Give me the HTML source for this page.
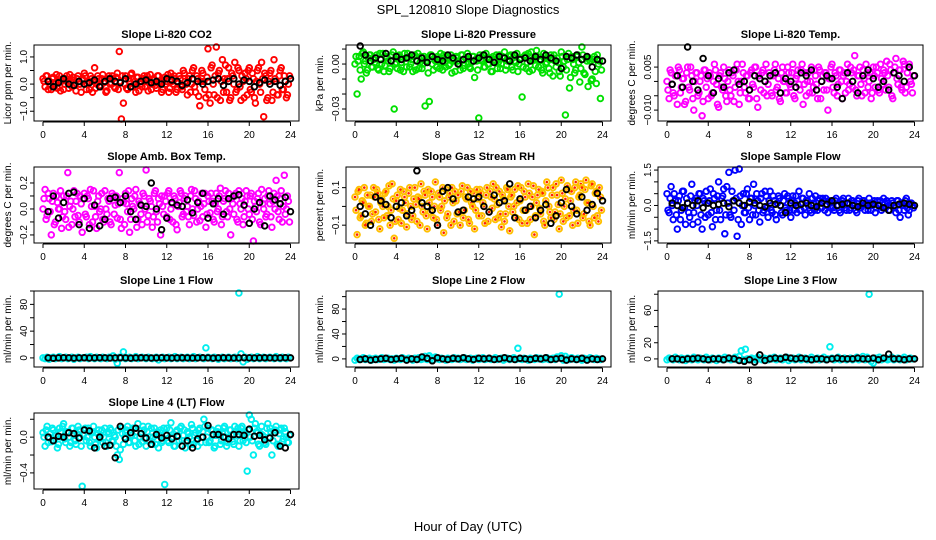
<!DOCTYPE html>
<html><head><meta charset="utf-8"><style>
body{margin:0;background:#fff}
svg{display:block}
text{font-family:"Liberation Sans",sans-serif}
</style></head><body>
<svg id="c" width="936" height="540" viewBox="0 0 936 540">
<text x="468" y="14" text-anchor="middle" font-size="13">SPL_120810  Slope Diagnostics</text>
<text x="468" y="531" text-anchor="middle" font-size="13">Hour of Day (UTC)</text>
</svg>
<script>
// x categories: colored points every 0.2 h (two interleaved sets), black points every 0.5 h
const hoursC = Array.from({length:120},(_,i)=>i*0.2);
const hoursC2 = Array.from({length:120},(_,i)=>0.1+i*0.2);
const hoursK = Array.from({length:48},(_,i)=>0.5+i*0.5);
const xTicks = [0,4,8,12,16,20,24];

const co2C=[0.2,-0.1,0.3,0.1,-0.2,0.25,0.0,-0.15,0.3,0.1,-0.2,0.2,0.05,0.35,-0.1,0.15,-0.25,0.3,0.0,0.2,0.4,-0.2,0.1,0.3,-0.3,0.6,0.0,0.2,-0.1,0.35,0.1,-0.25,0.3,0.05,0.2,-0.15,0.4,1.2,-1.3,-0.7,0.3,-0.2,0.1,0.4,0.0,-0.3,0.25,0.1,-0.1,0.3,0.2,-0.25,0.35,0.0,0.15,-0.15,0.3,0.05,-0.2,0.25,0.1,-0.3,0.4,0.0,0.2,-0.2,0.3,-0.1,0.5,0.1,-0.4,0.3,0.0,0.6,-0.3,0.2,-0.8,0.5,0.1,-0.5,1.3,-0.7,0.7,-0.4,1.4,0.4,-0.6,0.9,0.2,-0.3,0.6,-0.5,0.3,0.8,-0.2,0.5,-0.6,0.1,0.4,-0.4,0.6,-0.3,0.2,-0.7,0.5,0.0,0.8,-1.2,0.3,-0.5,0.4,-0.6,0.9,0.1,-0.4,0.5,-0.2,0.3,-0.5,0.0];
const co2C2=[0.1,0.3,-0.2,0.0,0.2,-0.1,0.35,0.1,-0.25,0.2,0.0,0.3,-0.15,0.1,0.25,-0.05,0.2,0.0,-0.3,0.15,0.3,0.0,-0.2,0.2,0.1,-0.15,0.3,-0.05,0.2,0.05,-0.3,0.2,0.0,0.3,-0.1,0.25,-0.2,0.1,0.3,0.0,-0.15,0.2,0.35,-0.1,0.1,0.25,-0.25,0.0,0.2,-0.1,0.3,0.05,-0.2,0.2,-0.05,0.3,0.1,-0.3,0.15,0.0,0.35,-0.15,0.1,0.3,-0.3,0.05,0.2,-0.2,0.4,0.0,0.2,-0.3,0.5,-0.1,0.3,-0.45,0.1,0.4,-0.2,0.25,-0.4,0.6,0.0,0.3,-0.5,0.5,0.1,-0.3,0.7,0.2,-0.6,0.4,0.0,-0.3,0.6,-0.1,0.3,-0.5,0.2,0.5,-0.2,0.4,-0.5,0.1,0.6,-0.3,0.2,0.4,-0.6,0.1,0.5,-0.3,0.2,-0.4,0.3,0.6,-0.2,0.1,-0.4,0.3];
const co2K=[0.1,-0.1,0.05,0.2,0.0,-0.05,0.1,0.0,0.05,0.15,-0.1,0.1,0.2,0.1,0.05,0.2,-0.1,0.0,0.1,0.15,0.05,0.1,0.0,0.2,0.15,0.1,-0.05,0.05,0.2,0.1,0.0,0.1,0.15,0.2,-0.05,0.1,0.2,0.0,0.15,0.1,-0.1,0.05,0.15,0.0,0.1,-0.05,0.1,0.2];
const presC=[0.0,-0.02,0.005,-0.01,0.008,0.002,-0.004,0.006,-0.002,0.003,0.004,-0.003,0.007,0.0,-0.005,0.005,0.002,-0.003,0.006,-0.03,0.001,0.005,-0.004,0.003,0.007,-0.002,0.004,0.0,-0.005,0.006,0.002,-0.003,0.005,0.0,-0.028,0.004,-0.025,0.006,-0.004,0.002,0.005,-0.003,0.001,0.006,-0.002,0.004,0.0,-0.006,0.003,0.005,0.002,-0.004,0.006,-0.001,0.004,0.0,-0.003,0.005,-0.009,0.002,-0.036,0.003,0.006,-0.002,0.004,0.0,-0.005,0.005,0.002,-0.003,0.006,0.0,0.004,-0.004,0.002,0.005,-0.002,0.006,0.001,-0.005,0.003,-0.022,0.005,-0.003,0.007,0.002,-0.004,0.004,0.009,-0.002,0.003,-0.006,0.005,0.001,-0.003,0.006,-0.008,0.002,0.004,-0.005,0.008,-0.002,-0.034,0.003,-0.016,0.005,0.0,-0.004,0.006,-0.012,0.012,-0.006,0.004,-0.015,0.002,-0.01,0.005,-0.013,0.0,-0.023];
const presC2=[0.005,0.002,-0.004,0.007,0.0,-0.006,0.004,0.006,-0.002,0.001,0.006,-0.004,0.003,0.007,-0.001,0.004,-0.005,0.002,0.008,0.0,-0.003,0.006,0.001,-0.005,0.004,0.007,-0.002,0.003,0.005,-0.004,0.007,0.001,-0.003,0.005,0.002,-0.006,0.006,0.0,0.004,-0.002,0.003,0.007,-0.004,0.001,0.005,-0.001,0.006,0.002,-0.005,0.004,0.0,0.006,-0.003,0.004,0.007,-0.002,0.001,0.005,0.003,-0.004,0.006,0.002,-0.002,0.007,0.0,0.004,-0.005,0.003,0.006,0.001,-0.003,0.005,0.008,-0.001,0.003,0.006,-0.004,0.002,0.007,0.0,0.004,-0.002,0.006,0.001,-0.005,0.008,0.003,-0.001,0.005,0.002,-0.004,0.007,0.0,0.004,-0.006,0.003,0.006,-0.002,0.001,-0.008,0.005,0.002,-0.004,0.007,-0.009,0.003,-0.006,0.005,0.001,-0.003,0.006,-0.007,0.002,0.004,-0.011,0.003,-0.005,0.006,0.002,-0.004];
const presK=[0.012,0.006,0.002,0.004,0.003,0.007,0.002,0.005,0.003,0.004,0.006,0.002,0.004,0.001,0.005,0.003,0.002,0.006,0.004,0.0,0.003,0.005,0.002,0.004,0.006,0.003,0.001,0.005,0.004,0.002,0.006,0.003,0.004,0.002,0.005,0.003,0.006,0.004,0.002,-0.003,0.005,0.004,0.006,0.003,0.005,-0.002,0.003,0.002];
const tempC=[0.0,-0.006,0.003,-0.004,0.002,-0.008,0.004,-0.002,0.001,-0.007,0.005,-0.003,0.002,-0.010,0.003,-0.005,0.0,-0.012,0.004,-0.002,-0.006,0.002,-0.004,0.006,-0.001,-0.009,0.003,-0.003,0.001,-0.007,0.004,-0.005,0.002,-0.002,0.006,-0.008,0.0,0.003,-0.004,0.002,-0.006,0.004,-0.002,0.005,-0.009,0.001,0.003,-0.004,0.006,-0.001,0.002,-0.005,0.004,-0.003,0.001,-0.007,0.005,0.0,-0.004,0.003,-0.002,0.006,-0.006,0.002,-0.001,0.004,-0.008,0.003,0.0,-0.004,0.005,-0.002,0.002,-0.006,0.004,0.0,-0.003,0.003,-0.010,0.001,0.006,-0.004,0.002,-0.001,0.004,-0.006,0.003,0.0,-0.003,0.005,-0.002,0.009,-0.005,0.002,-0.001,0.004,-0.004,0.003,0.0,-0.006,0.005,-0.002,0.003,-0.004,0.001,0.004,-0.003,0.002,0.006,-0.005,0.003,0.008,-0.001,0.004,-0.003,0.006,-0.002,0.005,0.0,-0.004];
const tempC2=[-0.003,0.004,-0.001,-0.005,0.002,0.005,-0.004,0.001,-0.008,0.003,-0.002,0.005,-0.006,0.0,0.003,-0.004,0.002,-0.007,0.004,0.001,0.003,-0.005,0.0,0.004,-0.008,0.002,-0.002,0.005,-0.005,0.0,-0.003,0.003,-0.007,0.004,0.0,-0.004,0.006,-0.002,0.002,-0.006,0.003,-0.001,0.005,-0.006,0.002,-0.003,0.004,0.0,-0.005,0.003,-0.004,0.002,0.006,-0.002,-0.006,0.003,0.0,-0.004,0.005,-0.001,0.003,-0.005,0.001,0.004,-0.003,0.006,-0.001,-0.005,0.003,0.0,-0.004,0.004,-0.001,0.005,-0.006,0.002,0.003,-0.003,0.001,0.005,-0.002,0.003,-0.005,0.004,0.0,0.002,-0.004,0.006,-0.001,0.003,0.004,-0.003,0.002,0.005,-0.005,0.001,0.006,-0.002,0.003,-0.004,0.002,0.005,-0.003,0.006,-0.001,0.003,0.007,-0.002,0.004,-0.006,0.005,0.001,0.004,-0.002,0.007,-0.004,0.003,0.006,-0.001,0.002];
const tempK=[-0.001,0.002,-0.002,0.012,0.0,-0.003,0.008,0.002,-0.004,0.001,-0.002,0.003,0.004,-0.001,0.0,-0.003,0.002,0.001,0.0,0.002,0.003,-0.004,0.001,0.0,-0.002,0.003,0.002,0.004,-0.003,0.0,0.002,0.001,-0.002,-0.006,0.003,0.0,-0.004,0.002,0.004,0.001,-0.002,0.0,-0.003,0.003,0.002,0.0,0.005,0.002];
const boxC=[0.0,0.15,-0.05,0.08,-0.2,0.12,-0.1,0.05,0.0,-0.15,0.1,-0.08,0.28,0.02,-0.12,0.14,0.06,-0.05,0.1,-0.18,0.12,-0.06,0.08,0.15,-0.1,0.02,-0.15,0.1,0.0,-0.08,0.14,-0.04,0.06,-0.12,0.1,0.03,-0.07,0.28,-0.15,0.05,0.12,-0.02,-0.18,0.08,0.0,0.15,-0.08,0.04,-0.12,0.1,0.3,-0.05,0.06,-0.14,0.12,-0.02,0.08,-0.2,0.02,0.1,-0.06,0.14,0.0,-0.1,0.08,-0.16,0.05,0.12,-0.04,0.1,0.02,-0.12,0.15,-0.05,0.08,0.0,-0.09,0.12,0.04,-0.14,0.1,-0.03,0.06,-0.1,0.12,0.0,0.16,-0.06,0.08,-0.02,0.12,-0.2,0.04,0.1,-0.08,0.14,0.0,-0.12,0.06,0.1,-0.04,0.12,-0.25,0.02,0.08,-0.1,0.15,0.0,-0.06,0.1,0.04,-0.14,0.12,0.22,-0.02,0.08,-0.1,0.26,0.0,0.06];
const boxC2=[0.08,-0.08,0.12,-0.02,0.06,-0.12,0.1,0.0,0.14,-0.06,-0.02,0.1,-0.14,0.06,0.0,-0.06,0.12,-0.1,0.04,0.08,-0.04,0.1,-0.12,0.02,0.14,-0.06,0.06,-0.02,0.12,-0.1,0.0,0.08,-0.1,0.12,-0.04,0.1,0.04,-0.08,0.08,-0.12,0.04,0.14,-0.08,0.02,0.1,-0.14,0.06,-0.04,0.12,0.0,-0.1,0.08,0.02,-0.06,0.14,-0.1,0.04,0.1,-0.04,0.06,0.12,-0.08,0.04,0.1,-0.12,0.02,0.14,-0.06,0.08,-0.02,-0.06,0.1,0.0,0.14,-0.1,0.06,0.02,-0.06,0.12,-0.04,0.06,0.12,-0.08,0.04,-0.02,0.1,-0.12,0.06,0.14,-0.06,0.0,0.08,-0.04,0.12,-0.1,0.04,0.08,-0.06,0.14,0.0,0.1,-0.08,0.06,-0.02,0.12,-0.12,0.04,0.08,-0.04,0.14,-0.06,0.06,0.0,0.1,-0.08,0.14,0.02,-0.04,0.1,-0.1];
const boxK=[-0.02,0.1,-0.07,0.05,0.12,0.13,-0.12,0.08,-0.15,0.03,-0.13,-0.08,0.08,0.09,0.05,0.1,-0.02,-0.08,0.03,0.02,0.2,0.0,-0.16,-0.07,0.05,0.03,0.02,0.07,-0.03,0.05,0.12,-0.07,0.04,0.08,-0.04,0.08,0.1,0.11,0.03,-0.11,0.0,0.05,-0.13,0.1,0.07,0.04,0.09,-0.02];
const rhC=[0.05,-0.15,0.09,-0.05,0.02,-0.1,0.06,0.0,-0.08,0.1,-0.03,0.07,-0.12,0.04,-0.06,0.08,0.0,-0.1,0.12,-0.17,0.03,-0.07,0.09,-0.02,0.05,-0.11,0.07,0.0,-0.05,0.1,-0.08,0.04,0.12,-0.03,0.06,-0.12,0.02,0.08,-0.06,0.13,-0.1,0.05,0.0,-0.14,0.09,-0.04,0.07,0.1,-0.08,0.03,0.06,-0.1,0.11,-0.02,0.04,-0.07,0.08,0.0,-0.12,0.09,-0.05,0.07,0.02,-0.09,0.1,-0.03,0.05,0.12,-0.07,0.01,0.08,-0.11,0.04,-0.04,0.09,-0.13,0.06,0.0,-0.06,0.11,0.03,-0.09,0.08,-0.02,0.12,-0.07,0.05,-0.15,0.02,0.09,-0.04,0.07,-0.1,0.13,0.0,-0.06,0.1,-0.03,0.06,-0.12,0.14,-0.08,0.04,0.11,-0.05,0.08,-0.02,0.13,-0.09,0.06,0.1,-0.04,0.14,0.02,-0.1,0.12,-0.06,0.08,-0.08,0.05];
const rhC2=[-0.02,0.08,-0.06,0.03,0.1,-0.09,0.0,0.06,-0.04,0.05,0.09,-0.07,0.02,0.0,0.07,-0.05,0.11,-0.02,0.04,-0.08,0.06,-0.01,-0.09,0.08,0.02,-0.04,0.1,-0.07,0.04,0.01,0.05,-0.1,0.0,0.08,-0.05,0.09,-0.03,0.05,0.0,-0.07,0.07,-0.02,0.1,0.03,-0.06,0.05,-0.1,0.02,0.08,-0.04,-0.03,0.08,-0.06,0.05,0.1,-0.09,0.02,0.07,-0.02,0.04,0.09,-0.05,0.0,0.06,-0.08,0.08,-0.01,0.04,0.1,-0.06,-0.04,0.06,-0.08,0.1,0.0,0.05,-0.03,0.09,0.02,-0.07,0.1,-0.02,0.05,-0.09,0.07,0.0,0.11,-0.05,0.06,-0.01,0.08,-0.08,0.03,0.1,-0.03,0.06,-0.07,0.12,0.01,-0.04,0.07,0.0,-0.06,0.09,0.03,-0.1,0.1,-0.02,0.05,0.12,-0.06,0.09,0.02,-0.08,0.11,0.0,0.07,-0.05,0.1,-0.02];
const rhK=[0.0,-0.04,-0.1,0.05,0.03,0.01,-0.06,0.0,0.02,-0.05,-0.02,0.19,0.02,0.0,-0.02,-0.1,0.08,0.1,0.04,-0.03,-0.02,0.05,0.04,0.05,0.0,-0.03,0.06,0.02,0.03,0.12,-0.06,0.04,-0.02,0.0,-0.06,-0.02,0.01,-0.09,-0.05,0.02,0.09,0.0,-0.04,0.05,-0.02,0.01,0.07,0.03];
const flowC=[0.5,-0.3,0.8,-0.6,0.2,-1.0,0.4,-0.2,0.6,-0.8,0.1,-0.5,0.9,-0.3,0.3,-0.7,0.5,-1.0,0.2,0.6,-0.4,0.7,-0.9,0.3,-0.2,1.0,-0.6,0.4,-1.2,0.8,1.4,-0.5,0.2,1.5,-1.3,1.6,-0.8,0.5,-0.3,0.7,-0.6,0.3,0.9,-0.4,0.2,-0.7,0.5,-0.2,0.4,-0.5,0.6,-0.3,0.2,-0.6,0.4,0.0,-0.4,0.5,-0.2,0.3,-0.5,0.4,0.1,-0.3,0.6,-0.2,0.3,-0.4,0.2,0.5,-0.3,0.1,0.4,-0.2,0.3,-0.1,0.2,0.3,-0.3,0.1,0.2,-0.2,0.3,0.0,-0.3,0.2,0.1,-0.2,0.3,-0.1,0.2,0.0,-0.3,0.3,-0.1,0.2,-0.2,0.1,0.3,-0.2,0.1,-0.3,0.2,0.0,-0.2,0.3,-0.1,0.1,-0.2,0.2,0.0,-0.3,0.2,-0.5,0.1,-0.2,0.3,-0.4,0.1,0.0];
const flowC2=[-0.2,0.3,0.0,0.5,-0.4,0.2,-0.6,0.6,-0.1,0.3,-0.3,0.4,-0.8,0.2,0.0,0.5,-0.4,0.3,-0.5,0.1,0.2,-0.3,0.5,-0.6,0.4,-0.2,0.3,0.7,-0.4,0.1,-0.4,0.6,-0.2,0.3,-0.6,0.4,0.0,-0.3,0.5,-0.1,0.3,-0.4,0.0,0.5,-0.2,0.3,-0.3,0.6,-0.1,0.2,-0.2,0.4,-0.4,0.1,0.3,-0.3,0.2,-0.1,0.4,-0.2,0.2,-0.2,0.4,0.0,-0.2,0.3,-0.1,0.2,0.0,-0.2,0.3,-0.2,0.1,0.2,-0.1,0.3,-0.2,0.0,0.2,-0.1,-0.1,0.2,0.0,-0.2,0.1,0.3,-0.1,0.1,-0.2,0.2,0.1,-0.2,0.2,-0.1,0.0,0.2,0.1,-0.2,0.1,0.0,0.2,-0.1,0.0,0.2,-0.1,0.1,0.2,-0.2,0.0,0.1,-0.1,0.2,-0.2,0.1,0.0,0.2,-0.1,-0.2,0.1,-0.1];
const flowK=[0.1,0.0,-0.1,0.1,0.0,0.2,-0.1,0.1,0.0,0.05,0.1,-0.05,0.2,0.1,0.0,0.15,0.1,0.0,-0.05,0.1,0.05,0.0,-0.3,0.1,0.0,0.05,0.1,0.0,-0.05,0.1,0.05,0.2,0.0,0.05,0.1,0.0,-0.05,0.1,0.0,0.05,0.0,-0.1,-0.2,0.0,0.05,0.1,0.05,0.0];
const l1C=[0,-1,1,-2,0,1,-1,0,2,-1,0,1,-1,0,1,-2,0,1,-1,0,0,1,-1,2,0,-1,1,0,-1,1,0,-1,1,0,3,-2,-8,1,0,9,-1,0,1,-1,0,2,-1,0,1,0,-1,1,0,-1,0,1,-3,0,1,-1,0,1,-1,0,2,-1,0,1,-1,0,1,-1,0,2,-1,0,1,0,-1,15,1,0,-1,1,0,-2,0,1,-1,0,1,-1,0,1,-1,100,6,-6,1,-2,0,1,-1,0,2,-1,0,1,-1,0,1,0,-1,2,0,-1,1,0,-1,1];
const l1K=[0,-0.5,0,0.3,0,-0.3,0,0.2,-0.2,0,0.3,0,-0.2,0,0.2,0,-0.3,0,0.2,0,-0.2,0,0.3,0,-0.1,0,0.2,0,-0.2,0,0.2,0,-0.3,0,0.2,0,-0.2,0,0.3,0,-0.1,0,0.2,0,-0.2,0,0.3,0];
const l2C=[-2,1,-1,0,2,-1,0,1,-2,0,1,-1,0,2,-1,0,1,-1,0,-2,1,0,-1,2,0,-1,1,0,-2,1,0,2,-1,0,4,-1,5,2,-1,3,0,-1,1,0,-2,1,0,-1,2,0,1,-1,0,2,-1,0,1,-2,0,1,-1,0,2,-1,0,1,-1,0,2,-1,0,1,-2,0,1,-1,0,2,-1,17,0,-1,1,0,-2,1,0,-1,2,0,1,-1,0,2,-1,0,1,-1,3,104,5,-2,4,0,-1,2,0,-1,1,0,-2,1,0,-1,2,0,-1,1,0,-1];
const l2K=[-1,0,-2,-1,0,1,-1,0,1,-2,0,-1,3,1,-3,2,0,-1,1,0,2,0,-1,1,0,1,-1,0,2,0,-1,1,0,-1,1,0,2,-1,0,1,-2,0,-1,1,-2,0,-1,0];
const l3C=[-1,1,0,-1,2,0,-1,1,0,-2,1,0,-1,2,0,-1,1,0,-1,2,0,-1,1,0,-2,1,0,-1,2,0,1,-1,0,2,-1,3,10,-1,12,0,-1,1,0,-1,2,0,-1,1,0,-1,1,0,2,-1,0,1,-1,0,2,-2,0,1,-1,0,2,-1,0,1,-1,0,2,-1,0,1,-1,0,2,-1,0,15,1,-1,0,2,-1,0,1,-1,0,1,-1,0,2,-1,0,3,-1,2,80,-3,-5,1,0,2,-1,0,1,-1,0,2,-1,0,1,-1,0,2,-1,0,1,0];
const l3K=[0,0,-1,0,0,1,0,-1,0,0,-1,1,0,-2,-3,-1,-4,5,-2,0,1,0,2,1,0,1,0,-1,0,0,-1,0,1,0,0,0,1,0,0,1,-1,1,6,0,0,-1,0,0];
const l4C=[0.05,-0.1,0.12,0.0,-0.05,0.08,0.02,-0.12,0.1,0.0,0.15,-0.06,0.05,-0.1,0.1,0.02,-0.08,0.12,0.0,-0.55,0.08,-0.04,0.1,-0.1,0.05,0.0,-0.12,0.08,0.02,-0.06,0.1,-0.1,0.04,0.08,-0.05,0.0,-0.2,-0.25,0.1,-0.08,0.05,0.12,-0.06,0.02,0.1,-0.1,0.15,0.0,-0.05,0.08,-0.1,0.12,0.0,-0.08,0.1,0.02,-0.12,0.08,-0.04,-0.53,0.1,-0.06,0.16,0.0,-0.1,0.08,-0.04,0.12,0.02,-0.12,0.06,0.0,0.14,-0.08,0.05,-0.1,0.1,0.0,0.2,-0.06,0.1,-0.04,0.08,-0.12,0.02,0.1,-0.08,0.05,0.12,-0.1,0.0,0.08,-0.05,0.12,0.02,-0.1,0.1,-0.04,0.06,-0.38,0.28,0.2,-0.2,0.15,0.05,-0.1,0.12,0.0,-0.08,0.15,0.1,-0.2,0.05,0.12,-0.1,0.08,-0.05,0.1,0.0,-0.06];
const l4C2=[0.0,0.08,-0.06,0.04,0.1,-0.04,0.02,-0.08,0.06,0.12,-0.02,0.06,0.0,-0.06,0.1,-0.04,0.04,0.08,-0.1,0.02,0.1,0.0,-0.06,0.06,0.12,-0.08,0.04,-0.02,0.08,0.0,-0.06,0.06,0.1,-0.04,0.02,-0.1,0.08,-0.14,0.04,0.0,0.08,-0.06,0.02,0.1,-0.04,0.06,-0.08,0.04,0.12,-0.02,0.06,-0.04,0.1,0.0,-0.08,0.06,0.02,-0.06,0.1,0.04,-0.04,0.08,0.0,-0.1,0.06,0.02,0.1,-0.04,0.08,-0.06,0.04,-0.08,0.1,0.02,-0.04,0.08,-0.06,0.06,0.12,0.0,-0.06,0.08,0.02,-0.1,0.06,0.04,-0.04,0.1,0.0,-0.06,0.08,0.02,-0.08,0.06,0.1,-0.04,0.12,0.04,-0.06,0.08,0.0,-0.04,0.1,0.06,-0.08,0.04,0.02,-0.06,0.1,0.0,0.06,-0.04,0.08,-0.08,0.04,0.1,-0.02,0.06,-0.06,0.02];
const l4K=[0.0,-0.04,0.01,0.0,0.05,0.04,-0.01,0.08,0.07,-0.12,0.0,-0.1,-0.09,-0.23,0.12,-0.02,0.05,0.1,0.04,-0.01,-0.08,0.03,-0.01,0.02,-0.02,0.01,-0.1,-0.04,-0.12,-0.02,0.0,0.13,0.03,0.03,0.0,-0.02,0.03,0.03,0.02,0.09,0.01,0.02,-0.03,-0.01,0.05,-0.1,-0.12,0.03];

const panels=[
 {id:'co2',title:'Slope Li-820 CO2',ylab:'Licor ppm per min.',col:0,row:0,color:'#ff0000',ymin:-1.36,ymax:1.44,ticks:[-1,-0.5,0,0.5,1],labels:['\u22121.0','','0.0','','1.0'],c:co2C,c2:co2C2,k:co2K},
 {id:'pressure',title:'Slope Li-820 Pressure',ylab:'kPa per min.',col:1,row:0,color:'#00e000',ymin:-0.038,ymax:0.0127,ticks:[-0.03,-0.02,-0.01,0,0.01],labels:['\u22120.03','','','0.00',''],c:presC,c2:presC2,k:presK},
 {id:'li820-temp',title:'Slope Li-820 Temp.',ylab:'degrees C per min.',col:2,row:0,color:'#ff00ff',ymin:-0.0138,ymax:0.0127,ticks:[-0.01,-0.005,0,0.005],labels:['\u22120.010','','','0.005'],c:tempC,c2:tempC2,k:tempK},
 {id:'amb-box-temp',title:'Slope Amb. Box Temp.',ylab:'degrees C per min.',col:0,row:1,color:'#ff00ff',ymin:-0.262,ymax:0.323,ticks:[-0.2,-0.1,0,0.1,0.2],labels:['\u22120.2','','0.0','','0.2'],c:boxC,c2:boxC2,k:boxK},
 {id:'gas-rh',title:'Slope Gas Stream RH',ylab:'percent per min.',col:1,row:1,color:'#ffc000',ymin:-0.195,ymax:0.21,ticks:[-0.1,0,0.1],labels:['\u22120.1','','0.1'],c:rhC,c2:rhC2,k:rhK},
 {id:'sample-flow',title:'Slope Sample Flow',ylab:'ml/min per min.',col:2,row:1,color:'#0000ff',ymin:-1.59,ymax:1.63,ticks:[-1.5,-1,-0.5,0,0.5,1,1.5],labels:['\u22121.5','','','0.0','','','1.5'],c:flowC,c2:flowC2,k:flowK},
 {id:'line1-flow',title:'Slope Line 1 Flow',ylab:'ml/min per min.',col:0,row:2,color:'#00eeee',ymin:-13.6,ymax:100,ticks:[0,20,40,60,80,100],labels:['0','','40','','80',''],c:l1C,c2:null,k:l1K},
 {id:'line2-flow',title:'Slope Line 2 Flow',ylab:'ml/min per min.',col:1,row:2,color:'#00eeee',ymin:-13,ymax:109,ticks:[0,20,40,60,80,100],labels:['0','','40','','80',''],c:l2C,c2:null,k:l2K},
 {id:'line3-flow',title:'Slope Line 3 Flow',ylab:'ml/min per min.',col:2,row:2,color:'#00eeee',ymin:-10,ymax:84,ticks:[0,20,40,60,80],labels:['0','20','','60',''],c:l3C,c2:null,k:l3K},
 {id:'line4-flow',title:'Slope Line 4 (LT) Flow',ylab:'ml/min per min.',col:0,row:3,color:'#00eeee',ymin:-0.58,ymax:0.27,ticks:[-0.4,-0.2,0,0.2],labels:['\u22120.4','','0.0',''],c:l4C,c2:l4C2,k:l4K}
];

const NS='http://www.w3.org/2000/svg';
const svg=document.getElementById('c');
const colLeft=[34,346,658], rowTop=[45,167,291,413], W=265, H=76;
function mk(tag,attrs,parent){const e=document.createElementNS(NS,tag);for(const k in attrs)e.setAttribute(k,attrs[k]);parent.appendChild(e);return e;}

panels.forEach(p=>{
  const L=colLeft[p.col], T=rowTop[p.row], B=T+H;
  const xs=h=>L+9+h/24*247.5;
  const ys=v=>B-(v-p.ymin)/(p.ymax-p.ymin)*H;
  const g=mk('g',{},svg);
  
  
  const t=mk('text',{x:L+W/2,y:T-7,'text-anchor':'middle','font-size':11,'font-weight':'bold'},g);
  t.textContent=p.title;
  
  
  const yl=mk('text',{x:0,y:0,'text-anchor':'middle','font-size':10,transform:`translate(${L-23},${T+H/2}) rotate(-90)`},g);
  yl.textContent=p.ylab;
  
  
  const cg=mk('g',{fill:'none',stroke:p.color,'stroke-width':1.9},g);
  
  
  function drawSet(vals,hrs){
    vals.forEach((v,i)=>{
      const cy=Math.max(T+2,Math.min(B-2,ys(v)));
      const cx=xs(hrs[i]);
      const c=mk('circle',{cx:cx.toFixed(1),cy:cy.toFixed(1),r:2.8},cg);
      
      
      if(p.id==='gas-rh'){const d=mk('circle',{cx:cx.toFixed(1),cy:cy.toFixed(1),r:1.3,fill:'#ff2000',stroke:'none'},cg);
        
        }
    });
  }
  if(p.c2) drawSet(p.c2,hoursC2);
  drawSet(p.c,hoursC);
  const kg=mk('g',{fill:'none',stroke:'#000','stroke-width':1.9},g);
  
  
  p.k.forEach((v,i)=>{
    const c=mk('circle',{cx:xs(hoursK[i]).toFixed(1),cy:ys(v).toFixed(1),r:2.8},kg);
    
    
  });
  const box=mk('rect',{x:L,y:T,width:W,height:H,fill:'none',stroke:'#000','stroke-width':1},g);
  
  
  const xa=mk('g',{},g);
  
  
  mk('line',{x1:xs(0),x2:xs(24),y1:B+1,y2:B+1,stroke:'#000'},xa);
  xTicks.forEach(h=>{
    mk('line',{x1:xs(h),x2:xs(h),y1:B+1,y2:B+5,stroke:'#000'},xa);
    const tl=mk('text',{x:xs(h),y:B+17,'text-anchor':'middle','font-size':10},xa);
    tl.textContent=h;
    
    
  });
  const ya=mk('g',{},g);
  
  
  p.ticks.forEach((v,i)=>{
    const y=ys(v);
    mk('line',{x1:L-4,x2:L,y1:y,y2:y,stroke:'#000'},ya);
    if(p.labels[i]){
      const tl=mk('text',{x:0,y:0,'text-anchor':'middle','font-size':10,transform:`translate(${L-7},${y}) rotate(-90)`},ya);
      tl.textContent=p.labels[i];
      
      
    }
  });
});
</script>
</body></html>
